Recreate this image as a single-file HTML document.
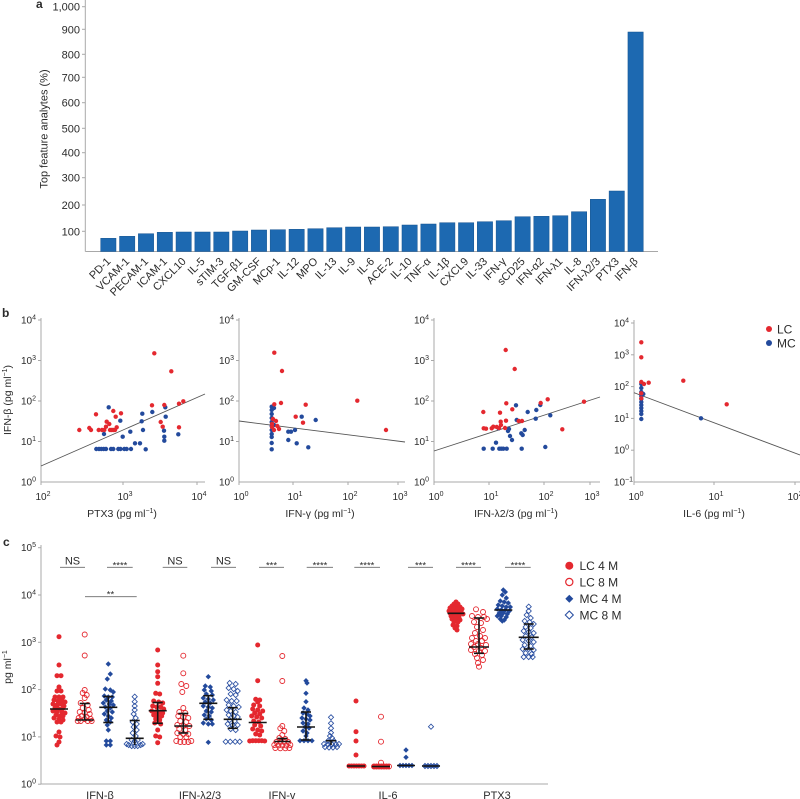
<!DOCTYPE html>
<html><head><meta charset="utf-8"><style>
html,body{margin:0;padding:0;background:#fff;}
svg{display:block;}
text{font-family:"Liberation Sans",Arial,sans-serif;fill:#2b2b2b;}
</style></head><body>
<svg width="800" height="799" viewBox="0 0 800 799" xmlns="http://www.w3.org/2000/svg">
<defs>
<circle id="rr" r="2.2" fill="#e4282f"/>
<circle id="bb" r="2.2" fill="#234a9c"/>
<circle id="rf" r="2.5" fill="#e4282f"/>
<circle id="ro" r="2.5" fill="none" stroke="#e4282f" stroke-width="0.9"/>
<path id="bf" d="M0,-2.7L2.7,0L0,2.7L-2.7,0Z" fill="#234a9c"/>
<path id="bo" d="M0,-2.6L2.6,0L0,2.6L-2.6,0Z" fill="none" stroke="#2b50a2" stroke-width="0.85"/>
</defs>

<!-- ================= PANEL A ================= -->
<text x="36" y="8" font-size="12" font-weight="bold">a</text>
<g stroke="#a8a8a8" stroke-width="1" fill="none">
<line x1="85.3" y1="0" x2="85.3" y2="251.5"/>
<line x1="85.3" y1="251.5" x2="658" y2="251.5"/>
<line x1="82" y1="6.7" x2="85.3" y2="6.7"/>
<line x1="82" y1="29.3" x2="85.3" y2="29.3"/>
<line x1="82" y1="54.3" x2="85.3" y2="54.3"/>
<line x1="82" y1="77.3" x2="85.3" y2="77.3"/>
<line x1="82" y1="102.7" x2="85.3" y2="102.7"/>
<line x1="82" y1="128.3" x2="85.3" y2="128.3"/>
<line x1="82" y1="152.7" x2="85.3" y2="152.7"/>
<line x1="82" y1="177.7" x2="85.3" y2="177.7"/>
<line x1="82" y1="205" x2="85.3" y2="205"/>
<line x1="82" y1="231.3" x2="85.3" y2="231.3"/>
</g>
<g font-size="11" text-anchor="end">
<text x="80" y="10.7">1,000</text>
<text x="80" y="33.3">900</text>
<text x="80" y="58.3">800</text>
<text x="80" y="81.3">700</text>
<text x="80" y="106.7">600</text>
<text x="80" y="132.3">500</text>
<text x="80" y="156.7">400</text>
<text x="80" y="181.7">300</text>
<text x="80" y="209">200</text>
<text x="80" y="235.3">100</text>
</g>
<text transform="translate(47.5,129) rotate(-90)" font-size="11" text-anchor="middle">Top feature analytes (%)</text>

<g fill="#1d69b1" stroke="#14528f" stroke-width="0.5">
<rect x="100.7" y="238.3" width="15.3" height="13.2"/>
<rect x="119.53" y="236.3" width="15.3" height="15.2"/>
<rect x="138.36" y="233.7" width="15.3" height="17.8"/>
<rect x="157.19" y="232.3" width="15.3" height="19.2"/>
<rect x="176.02" y="232" width="15.3" height="19.5"/>
<rect x="194.85" y="232" width="15.3" height="19.5"/>
<rect x="213.68" y="232" width="15.3" height="19.5"/>
<rect x="232.51" y="231" width="15.3" height="20.5"/>
<rect x="251.34" y="230" width="15.3" height="21.5"/>
<rect x="270.17" y="229.7" width="15.3" height="21.8"/>
<rect x="289.0" y="229.3" width="15.3" height="22.2"/>
<rect x="307.83" y="228.7" width="15.3" height="22.8"/>
<rect x="326.66" y="227.7" width="15.3" height="23.8"/>
<rect x="345.49" y="227" width="15.3" height="24.5"/>
<rect x="364.32" y="227" width="15.3" height="24.5"/>
<rect x="383.15" y="226.7" width="15.3" height="24.8"/>
<rect x="401.98" y="225" width="15.3" height="26.5"/>
<rect x="420.81" y="224" width="15.3" height="27.5"/>
<rect x="439.64" y="222.7" width="15.3" height="28.8"/>
<rect x="458.47" y="222.7" width="15.3" height="28.8"/>
<rect x="477.3" y="221.7" width="15.3" height="29.8"/>
<rect x="496.13" y="220.7" width="15.3" height="30.8"/>
<rect x="514.96" y="216.7" width="15.3" height="34.8"/>
<rect x="533.79" y="216.3" width="15.3" height="35.2"/>
<rect x="552.62" y="215.7" width="15.3" height="35.8"/>
<rect x="571.45" y="211.7" width="15.3" height="39.8"/>
<rect x="590.28" y="199.3" width="15.3" height="52.2"/>
<rect x="609.11" y="191" width="15.3" height="60.5"/>
<rect x="627.94" y="32" width="15.3" height="219.5"/>
</g>
<g font-size="11" text-anchor="end">
<text transform="translate(111.3,262) rotate(-45)">PD-1</text>
<text transform="translate(130.13,262) rotate(-45)">VCAM-1</text>
<text transform="translate(148.96,262) rotate(-45)">PECAM-1</text>
<text transform="translate(167.79,262) rotate(-45)">ICAM-1</text>
<text transform="translate(186.62,262) rotate(-45)">CXCL10</text>
<text transform="translate(205.45,262) rotate(-45)">IL-5</text>
<text transform="translate(224.28,262) rotate(-45)">sTIM-3</text>
<text transform="translate(243.11,262) rotate(-45)">TGF-β1</text>
<text transform="translate(261.94,262) rotate(-45)">GM-CSF</text>
<text transform="translate(280.77,262) rotate(-45)">MCp-1</text>
<text transform="translate(299.6,262) rotate(-45)">IL-12</text>
<text transform="translate(318.43,262) rotate(-45)">MPO</text>
<text transform="translate(337.26,262) rotate(-45)">IL-13</text>
<text transform="translate(356.09,262) rotate(-45)">IL-9</text>
<text transform="translate(374.92,262) rotate(-45)">IL-6</text>
<text transform="translate(393.75,262) rotate(-45)">ACE-2</text>
<text transform="translate(412.58,262) rotate(-45)">IL-10</text>
<text transform="translate(431.41,262) rotate(-45)">TNF-α</text>
<text transform="translate(450.24,262) rotate(-45)">IL-1β</text>
<text transform="translate(469.07,262) rotate(-45)">CXCL9</text>
<text transform="translate(487.9,262) rotate(-45)">IL-33</text>
<text transform="translate(506.73,262) rotate(-45)">IFN-γ</text>
<text transform="translate(525.56,262) rotate(-45)">sCD25</text>
<text transform="translate(544.39,262) rotate(-45)">IFN-α2</text>
<text transform="translate(563.22,262) rotate(-45)">IFN-λ1</text>
<text transform="translate(582.05,262) rotate(-45)">IL-8</text>
<text transform="translate(600.88,262) rotate(-45)">IFN-λ2/3</text>
<text transform="translate(619.71,262) rotate(-45)">PTX3</text>
<text transform="translate(638.54,262) rotate(-45)">IFN-β</text>
</g>

<!-- ================= PANEL B ================= -->
<text x="2" y="317" font-size="12" font-weight="bold">b</text>
<g stroke="#a8a8a8" stroke-width="1" fill="none">
<!-- plot1 -->
<line x1="41" y1="318" x2="41" y2="482"/><line x1="41" y1="482" x2="205" y2="482"/>
<line x1="38" y1="320" x2="41" y2="320"/><line x1="38" y1="360.5" x2="41" y2="360.5"/><line x1="38" y1="401" x2="41" y2="401"/><line x1="38" y1="441.5" x2="41" y2="441.5"/>
<line x1="123" y1="482" x2="123" y2="485"/><line x1="197" y1="482" x2="197" y2="485"/><line x1="41" y1="482" x2="41" y2="485"/>
<!-- plot2 -->
<line x1="239" y1="318" x2="239" y2="482"/><line x1="239" y1="482" x2="405" y2="482"/>
<line x1="236" y1="320" x2="239" y2="320"/><line x1="236" y1="360.5" x2="239" y2="360.5"/><line x1="236" y1="401" x2="239" y2="401"/><line x1="236" y1="441.5" x2="239" y2="441.5"/>
<line x1="293" y1="482" x2="293" y2="485"/><line x1="348" y1="482" x2="348" y2="485"/><line x1="398" y1="482" x2="398" y2="485"/><line x1="239" y1="482" x2="239" y2="485"/>
<!-- plot3 -->
<line x1="434" y1="318" x2="434" y2="482"/><line x1="434" y1="482" x2="600" y2="482"/>
<line x1="431" y1="320" x2="434" y2="320"/><line x1="431" y1="360.5" x2="434" y2="360.5"/><line x1="431" y1="401" x2="434" y2="401"/><line x1="431" y1="441.5" x2="434" y2="441.5"/>
<line x1="489" y1="482" x2="489" y2="485"/><line x1="544" y1="482" x2="544" y2="485"/><line x1="590" y1="482" x2="590" y2="485"/><line x1="434" y1="482" x2="434" y2="485"/>
<!-- plot4 -->
<line x1="634" y1="320" x2="634" y2="482"/><line x1="634" y1="482" x2="800" y2="482"/>
<line x1="631" y1="323" x2="634" y2="323"/><line x1="631" y1="354.8" x2="634" y2="354.8"/><line x1="631" y1="386.6" x2="634" y2="386.6"/><line x1="631" y1="418.4" x2="634" y2="418.4"/><line x1="631" y1="450.2" x2="634" y2="450.2"/>
<line x1="714" y1="482" x2="714" y2="485"/><line x1="795" y1="482" x2="795" y2="485"/><line x1="634" y1="482" x2="634" y2="485"/>
</g>
<g font-size="10" text-anchor="end">
<text x="36" y="323.5">10<tspan dy="-4" font-size="7">4</tspan></text>
<text x="36" y="364">10<tspan dy="-4" font-size="7">3</tspan></text>
<text x="36" y="404.5">10<tspan dy="-4" font-size="7">2</tspan></text>
<text x="36" y="445">10<tspan dy="-4" font-size="7">1</tspan></text>
<text x="36" y="485.5">10<tspan dy="-4" font-size="7">0</tspan></text>
<text x="234" y="323.5">10<tspan dy="-4" font-size="7">4</tspan></text>
<text x="234" y="364">10<tspan dy="-4" font-size="7">3</tspan></text>
<text x="234" y="404.5">10<tspan dy="-4" font-size="7">2</tspan></text>
<text x="234" y="445">10<tspan dy="-4" font-size="7">1</tspan></text>
<text x="234" y="485.5">10<tspan dy="-4" font-size="7">0</tspan></text>
<text x="429" y="323.5">10<tspan dy="-4" font-size="7">4</tspan></text>
<text x="429" y="364">10<tspan dy="-4" font-size="7">3</tspan></text>
<text x="429" y="404.5">10<tspan dy="-4" font-size="7">2</tspan></text>
<text x="429" y="445">10<tspan dy="-4" font-size="7">1</tspan></text>
<text x="429" y="485.5">10<tspan dy="-4" font-size="7">0</tspan></text>
<text x="629" y="326.5">10<tspan dy="-4" font-size="7">4</tspan></text>
<text x="629" y="358.3">10<tspan dy="-4" font-size="7">3</tspan></text>
<text x="629" y="390.1">10<tspan dy="-4" font-size="7">2</tspan></text>
<text x="629" y="421.9">10<tspan dy="-4" font-size="7">1</tspan></text>
<text x="629" y="453.7">10<tspan dy="-4" font-size="7">0</tspan></text>
<text x="633" y="485.5">10<tspan dy="-4" font-size="7">−1</tspan></text>
</g>
<g font-size="10" text-anchor="middle">
<text x="43" y="500">10<tspan dy="-4" font-size="7">2</tspan></text>
<text x="125" y="500">10<tspan dy="-4" font-size="7">3</tspan></text>
<text x="199" y="500">10<tspan dy="-4" font-size="7">4</tspan></text>
<text x="241" y="500">10<tspan dy="-4" font-size="7">0</tspan></text>
<text x="295" y="500">10<tspan dy="-4" font-size="7">1</tspan></text>
<text x="350" y="500">10<tspan dy="-4" font-size="7">2</tspan></text>
<text x="400" y="500">10<tspan dy="-4" font-size="7">3</tspan></text>
<text x="436" y="500">10<tspan dy="-4" font-size="7">0</tspan></text>
<text x="491" y="500">10<tspan dy="-4" font-size="7">1</tspan></text>
<text x="546" y="500">10<tspan dy="-4" font-size="7">2</tspan></text>
<text x="592" y="500">10<tspan dy="-4" font-size="7">3</tspan></text>
<text x="636" y="500">10<tspan dy="-4" font-size="7">0</tspan></text>
<text x="716" y="500">10<tspan dy="-4" font-size="7">1</tspan></text>
<text x="795" y="500">10<tspan dy="-4" font-size="7">2</tspan></text>
</g>
<g font-size="10.5" text-anchor="middle">
<text x="122" y="517">PTX3 (pg ml<tspan dy="-4" font-size="7">−1</tspan><tspan dy="4">)</tspan></text>
<text x="320" y="517">IFN-γ (pg ml<tspan dy="-4" font-size="7">−1</tspan><tspan dy="4">)</tspan></text>
<text x="516" y="517">IFN-λ2/3 (pg ml<tspan dy="-4" font-size="7">−1</tspan><tspan dy="4">)</tspan></text>
<text x="714" y="517">IL-6 (pg ml<tspan dy="-4" font-size="7">−1</tspan><tspan dy="4">)</tspan></text>
</g>
<text transform="translate(11,400) rotate(-90)" font-size="10.5" text-anchor="middle">IFN-β (pg ml<tspan dy="-4" font-size="7">−1</tspan><tspan dy="4">)</tspan></text>

<!-- regression lines -->
<g stroke="#555" stroke-width="0.9">
<line x1="41" y1="466" x2="205" y2="394"/>
<line x1="239" y1="421" x2="405" y2="442"/>
<line x1="434" y1="451" x2="600" y2="397"/>
<line x1="634" y1="392.7" x2="800" y2="455"/>
</g>

<!-- plot1 points -->
<g>
<use href="#bb" x="108.7" y="407.3"/><use href="#bb" x="120.3" y="420.7"/><use href="#bb" x="104" y="434"/>
<use href="#bb" x="96.3" y="449"/><use href="#bb" x="99" y="449"/><use href="#bb" x="101.3" y="449"/><use href="#bb" x="103.7" y="449"/><use href="#bb" x="106" y="449"/><use href="#bb" x="111" y="449"/><use href="#bb" x="113.3" y="449"/><use href="#bb" x="118.3" y="449"/><use href="#bb" x="120.5" y="449"/><use href="#bb" x="124.3" y="449"/><use href="#bb" x="126.7" y="449"/><use href="#bb" x="131" y="449"/>
<use href="#bb" x="122.7" y="436.7"/><use href="#bb" x="130.3" y="431.7"/><use href="#bb" x="135" y="443.3"/><use href="#bb" x="140" y="443.3"/>
<use href="#bb" x="142.3" y="413.7"/><use href="#bb" x="143" y="430"/><use href="#bb" x="141.7" y="421.3"/><use href="#bb" x="145.7" y="449.3"/>
<use href="#bb" x="152.3" y="412"/><use href="#bb" x="164" y="430.7"/><use href="#bb" x="164.3" y="436.7"/><use href="#bb" x="164.3" y="440.7"/><use href="#bb" x="165.7" y="416.7"/><use href="#bb" x="165.3" y="407.3"/><use href="#bb" x="178.3" y="434.3"/>
<use href="#rr" x="79.3" y="430"/><use href="#rr" x="89.3" y="428"/><use href="#rr" x="91" y="430"/><use href="#rr" x="96" y="414.3"/><use href="#rr" x="98.7" y="430"/><use href="#rr" x="102" y="430"/><use href="#rr" x="104.3" y="430"/><use href="#rr" x="106" y="426.7"/><use href="#rr" x="106.7" y="421.7"/><use href="#rr" x="109.3" y="424"/><use href="#rr" x="110" y="430"/><use href="#rr" x="111.7" y="430"/><use href="#rr" x="113.3" y="430"/><use href="#rr" x="115" y="430"/><use href="#rr" x="113.3" y="411"/><use href="#rr" x="115.7" y="416.7"/><use href="#rr" x="116.7" y="427.3"/><use href="#rr" x="121" y="413.3"/>
<use href="#rr" x="154.3" y="353.3"/><use href="#rr" x="171.3" y="371.3"/><use href="#rr" x="152" y="405.3"/><use href="#rr" x="164.3" y="405"/><use href="#rr" x="160.7" y="422"/><use href="#rr" x="162.7" y="426.7"/><use href="#rr" x="179" y="403.7"/><use href="#rr" x="183.3" y="401.3"/><use href="#rr" x="179" y="427.3"/>
</g>
<!-- plot2 points -->
<g>
<use href="#bb" x="271.7" y="406.7"/><use href="#bb" x="271.7" y="410"/><use href="#bb" x="271.7" y="414"/><use href="#bb" x="271.7" y="418"/><use href="#bb" x="271.7" y="422"/><use href="#bb" x="271.7" y="426"/><use href="#bb" x="271.7" y="430"/><use href="#bb" x="271.7" y="434"/><use href="#bb" x="271.7" y="437"/><use href="#bb" x="271.7" y="443"/><use href="#bb" x="271.7" y="449.3"/>
<use href="#bb" x="274" y="408"/><use href="#bb" x="274" y="425"/><use href="#bb" x="288.3" y="431.7"/><use href="#bb" x="291" y="431.7"/><use href="#bb" x="288.3" y="440"/><use href="#bb" x="296.7" y="443.3"/><use href="#bb" x="301.7" y="416.7"/><use href="#bb" x="315.7" y="420"/><use href="#bb" x="308.3" y="447.3"/><use href="#bb" x="295" y="430"/>
<use href="#rr" x="274.3" y="352.7"/><use href="#rr" x="282" y="371"/><use href="#rr" x="274.3" y="404.3"/><use href="#rr" x="281" y="403"/><use href="#rr" x="357.3" y="400.7"/><use href="#rr" x="386" y="430"/><use href="#rr" x="305.7" y="404.7"/><use href="#rr" x="295.7" y="416.7"/><use href="#rr" x="303" y="422.7"/><use href="#rr" x="277.3" y="426"/><use href="#rr" x="272" y="427"/><use href="#rr" x="274" y="430"/><use href="#rr" x="279" y="429"/><use href="#rr" x="272" y="424"/><use href="#rr" x="276" y="421"/><use href="#rr" x="273" y="419"/>
</g>
<!-- plot3 points -->
<g>
<use href="#bb" x="483.7" y="448.7"/><use href="#bb" x="492.7" y="448.7"/><use href="#bb" x="496" y="442.7"/><use href="#bb" x="499.3" y="448.7"/><use href="#bb" x="501.3" y="448.7"/><use href="#bb" x="503.3" y="448.7"/><use href="#bb" x="506.7" y="448.7"/><use href="#bb" x="498.7" y="428.3"/><use href="#bb" x="509" y="429"/><use href="#bb" x="508" y="431"/><use href="#bb" x="510" y="436"/><use href="#bb" x="512" y="440"/><use href="#bb" x="516" y="405.3"/><use href="#bb" x="516.7" y="420"/><use href="#bb" x="521.3" y="433.3"/><use href="#bb" x="522.7" y="435"/><use href="#bb" x="524.7" y="430"/><use href="#bb" x="521.7" y="448.7"/><use href="#bb" x="527.7" y="412"/><use href="#bb" x="535.7" y="418.7"/><use href="#bb" x="536.3" y="410"/><use href="#bb" x="540.3" y="405"/><use href="#bb" x="545.3" y="447"/><use href="#bb" x="550.3" y="415.3"/>
<use href="#rr" x="505.7" y="350"/><use href="#rr" x="514.7" y="369"/><use href="#rr" x="506.3" y="403.3"/><use href="#rr" x="483.3" y="412"/><use href="#rr" x="483.7" y="428.3"/><use href="#rr" x="486" y="428.7"/><use href="#rr" x="491.7" y="428.3"/><use href="#rr" x="493.3" y="426.7"/><use href="#rr" x="496.7" y="427"/><use href="#rr" x="500" y="412.7"/><use href="#rr" x="500.7" y="421.7"/><use href="#rr" x="501" y="425"/><use href="#rr" x="499" y="428"/><use href="#rr" x="505" y="428"/><use href="#rr" x="506" y="420.7"/><use href="#rr" x="512.3" y="409.3"/><use href="#rr" x="518.7" y="421"/><use href="#rr" x="522" y="421"/><use href="#rr" x="540.7" y="403"/><use href="#rr" x="547.7" y="399.3"/><use href="#rr" x="562.3" y="429.3"/><use href="#rr" x="584" y="401.7"/>
</g>
<!-- plot4 points -->
<g>
<use href="#bb" x="641.3" y="384"/><use href="#bb" x="641.3" y="388"/><use href="#bb" x="641.3" y="392"/><use href="#bb" x="641.3" y="396"/><use href="#bb" x="641.3" y="399"/><use href="#bb" x="641.3" y="402"/><use href="#bb" x="641.3" y="405"/><use href="#bb" x="641.3" y="408"/><use href="#bb" x="641.3" y="411"/><use href="#bb" x="641.3" y="414"/><use href="#bb" x="641.3" y="419"/><use href="#bb" x="643.3" y="394"/><use href="#bb" x="701" y="418.3"/>
<use href="#rr" x="641.3" y="342.3"/><use href="#rr" x="641.3" y="357.3"/><use href="#rr" x="641.3" y="382"/><use href="#rr" x="641.3" y="393.3"/><use href="#rr" x="641.3" y="398.3"/><use href="#rr" x="644" y="384"/><use href="#rr" x="648.7" y="382.7"/><use href="#rr" x="683.3" y="380.7"/><use href="#rr" x="726.7" y="404.3"/>
</g>
<!-- legend b -->
<use href="#rr" x="769" y="329" transform="translate(0,0)"/>
<circle cx="769" cy="329" r="3" fill="#e4282f"/>
<circle cx="769" cy="343" r="3" fill="#234a9c"/>
<text x="777" y="333.5" font-size="12">LC</text>
<text x="777" y="347.5" font-size="12">MC</text>

<!-- ================= PANEL C ================= -->
<text x="3" y="546" font-size="12" font-weight="bold">c</text>
<g stroke="#a8a8a8" stroke-width="1" fill="none">
<line x1="41" y1="545" x2="41" y2="784"/><line x1="41" y1="784" x2="548" y2="784"/>
<line x1="38" y1="547.7" x2="41" y2="547.7"/><line x1="38" y1="595" x2="41" y2="595"/><line x1="38" y1="642.3" x2="41" y2="642.3"/><line x1="38" y1="689.6" x2="41" y2="689.6"/><line x1="38" y1="736.9" x2="41" y2="736.9"/><line x1="38" y1="784.2" x2="41" y2="784.2"/>
</g>
<g font-size="10" text-anchor="end">
<text x="36" y="551.2">10<tspan dy="-4" font-size="7">5</tspan></text>
<text x="36" y="598.5">10<tspan dy="-4" font-size="7">4</tspan></text>
<text x="36" y="645.8">10<tspan dy="-4" font-size="7">3</tspan></text>
<text x="36" y="693.1">10<tspan dy="-4" font-size="7">2</tspan></text>
<text x="36" y="740.4">10<tspan dy="-4" font-size="7">1</tspan></text>
<text x="36" y="787.7">10<tspan dy="-4" font-size="7">0</tspan></text>
</g>
<text transform="translate(11,667) rotate(-90)" font-size="10.5" text-anchor="middle">pg ml<tspan dy="-4" font-size="7">−1</tspan></text>
<g font-size="11" text-anchor="middle">
<text x="100" y="799">IFN-β</text>
<text x="200" y="799">IFN-λ2/3</text>
<text x="282" y="799">IFN-γ</text>
<text x="388" y="799">IL-6</text>
<text x="497" y="799">PTX3</text>
</g>

<!-- significance -->
<g stroke="#6a6a6a" stroke-width="0.9">
<line x1="60" y1="567.3" x2="85" y2="567.3"/>
<line x1="107" y1="567.3" x2="132.7" y2="567.3"/>
<line x1="162.7" y1="567.3" x2="187.3" y2="567.3"/>
<line x1="211" y1="567.3" x2="236" y2="567.3"/>
<line x1="259" y1="567.3" x2="284" y2="567.3"/>
<line x1="306.7" y1="567.3" x2="333" y2="567.3"/>
<line x1="354.3" y1="567.3" x2="380" y2="567.3"/>
<line x1="408" y1="567.3" x2="433" y2="567.3"/>
<line x1="456" y1="567.3" x2="481" y2="567.3"/>
<line x1="505" y1="567.3" x2="530.7" y2="567.3"/>
<line x1="85" y1="596.7" x2="136.7" y2="596.7"/>
</g>
<g font-size="11" text-anchor="middle">
<text x="72.5" y="564.5">NS</text>
<text x="175" y="564.5">NS</text>
<text x="223.5" y="564.5">NS</text>
</g>
<g font-size="9.5" text-anchor="middle">
<text x="120" y="568.5">****</text>
<text x="271.5" y="568.5">***</text>
<text x="320" y="568.5">****</text>
<text x="367" y="568.5">****</text>
<text x="420.5" y="568.5">***</text>
<text x="468.5" y="568.5">****</text>
<text x="518" y="568.5">****</text>
<text x="110.5" y="597.5">**</text>
</g>

<!-- IFN-beta LC4M -->
<g transform="translate(59,0)">
<use href="#rf" x="0" y="636.7"/><use href="#rf" x="0" y="665"/><use href="#rf" x="-2" y="675.7"/><use href="#rf" x="2" y="675.7"/><use href="#rf" x="0" y="687"/><use href="#rf" x="-2" y="691"/><use href="#rf" x="2" y="691"/>
<use href="#rf" x="-4" y="697"/><use href="#rf" x="0" y="697"/><use href="#rf" x="4" y="697"/><use href="#rf" x="-5" y="700"/><use href="#rf" x="-1" y="701"/><use href="#rf" x="3" y="700"/><use href="#rf" x="6" y="702"/><use href="#rf" x="-6" y="704"/><use href="#rf" x="-2" y="705"/><use href="#rf" x="2" y="704"/><use href="#rf" x="5" y="706"/><use href="#rf" x="-4" y="708"/><use href="#rf" x="0" y="709"/><use href="#rf" x="4" y="708"/><use href="#rf" x="-6" y="711"/><use href="#rf" x="-2" y="712"/><use href="#rf" x="3" y="712"/><use href="#rf" x="6" y="713"/><use href="#rf" x="-3" y="715"/><use href="#rf" x="1" y="716"/><use href="#rf" x="4" y="716"/><use href="#rf" x="-5" y="718"/><use href="#rf" x="0" y="719"/><use href="#rf" x="4" y="720"/><use href="#rf" x="-2" y="722"/><use href="#rf" x="2" y="722"/>
<use href="#rf" x="0" y="732"/><use href="#rf" x="-3" y="736"/><use href="#rf" x="1" y="737"/><use href="#rf" x="0" y="742"/><use href="#rf" x="-2" y="745"/>
</g>
<!-- IFN-beta LC8M -->
<g transform="translate(84.7,0)">
<use href="#ro" x="0" y="634.5"/><use href="#ro" x="0" y="655.5"/><use href="#ro" x="0" y="690"/><use href="#ro" x="-2" y="693"/><use href="#ro" x="2" y="695"/><use href="#ro" x="0" y="698"/>
<use href="#ro" x="-4" y="703"/><use href="#ro" x="3" y="705"/><use href="#ro" x="-2" y="708"/><use href="#ro" x="4" y="710"/><use href="#ro" x="-5" y="712"/><use href="#ro" x="0" y="713"/><use href="#ro" x="5" y="714"/><use href="#ro" x="-3" y="716"/><use href="#ro" x="2" y="717"/><use href="#ro" x="-6" y="718"/><use href="#ro" x="0" y="719"/><use href="#ro" x="6" y="719"/><use href="#ro" x="-4" y="721"/><use href="#ro" x="3" y="721"/><use href="#ro" x="-7" y="721"/><use href="#ro" x="7" y="721"/>
</g>
<!-- IFN-beta MC4M -->
<g transform="translate(108.3,0)">
<use href="#bf" x="0" y="664"/><use href="#bf" x="2" y="674"/><use href="#bf" x="-1" y="679"/><use href="#bf" x="-3" y="689"/><use href="#bf" x="2" y="690"/><use href="#bf" x="5" y="692"/><use href="#bf" x="-4" y="696"/><use href="#bf" x="0" y="697"/><use href="#bf" x="4" y="697"/><use href="#bf" x="-2" y="700"/><use href="#bf" x="3" y="701"/><use href="#bf" x="-5" y="703"/><use href="#bf" x="1" y="704"/><use href="#bf" x="5" y="705"/><use href="#bf" x="-3" y="707"/><use href="#bf" x="2" y="708"/><use href="#bf" x="-1" y="711"/><use href="#bf" x="4" y="712"/><use href="#bf" x="-4" y="714"/><use href="#bf" x="0" y="716"/><use href="#bf" x="3" y="718"/><use href="#bf" x="-2" y="720"/><use href="#bf" x="2" y="722"/><use href="#bf" x="-1" y="725"/><use href="#bf" x="0" y="730"/><use href="#bf" x="-2" y="741"/><use href="#bf" x="2" y="741"/><use href="#bf" x="-2" y="745"/><use href="#bf" x="2" y="745"/>
</g>
<!-- IFN-beta MC8M -->
<g transform="translate(134.7,0)">
<use href="#bo" x="0" y="696.7"/><use href="#bo" x="0" y="701.7"/><use href="#bo" x="0" y="706"/><use href="#bo" x="0" y="710"/><use href="#bo" x="-1" y="714"/><use href="#bo" x="1" y="718"/><use href="#bo" x="-2" y="722"/><use href="#bo" x="2" y="724"/><use href="#bo" x="-1" y="727"/><use href="#bo" x="2" y="730"/><use href="#bo" x="-2" y="733"/><use href="#bo" x="1" y="736"/><use href="#bo" x="-3" y="740"/><use href="#bo" x="0" y="741"/><use href="#bo" x="3" y="740"/><use href="#bo" x="-6" y="745"/><use href="#bo" x="-3" y="746"/><use href="#bo" x="0" y="746"/><use href="#bo" x="3" y="746"/><use href="#bo" x="6" y="745"/><use href="#bo" x="-8" y="744"/><use href="#bo" x="8" y="744"/>
</g>
<!-- IFN-lambda LC4M -->
<g transform="translate(157.7,0)">
<use href="#rf" x="0" y="650"/><use href="#rf" x="0" y="665"/><use href="#rf" x="0" y="671.7"/><use href="#rf" x="0" y="676.7"/><use href="#rf" x="0" y="683.3"/><use href="#rf" x="-2" y="693.3"/><use href="#rf" x="2" y="694"/><use href="#rf" x="-4" y="701"/><use href="#rf" x="1" y="702"/><use href="#rf" x="5" y="703"/><use href="#rf" x="-5" y="706"/><use href="#rf" x="-1" y="707"/><use href="#rf" x="3" y="707"/><use href="#rf" x="6" y="709"/><use href="#rf" x="-6" y="711"/><use href="#rf" x="-2" y="712"/><use href="#rf" x="2" y="712"/><use href="#rf" x="5" y="713"/><use href="#rf" x="-4" y="715"/><use href="#rf" x="0" y="716"/><use href="#rf" x="4" y="716"/><use href="#rf" x="-2" y="719"/><use href="#rf" x="2" y="720"/><use href="#rf" x="-3" y="723"/><use href="#rf" x="3" y="724"/><use href="#rf" x="0" y="730"/><use href="#rf" x="-2" y="736"/><use href="#rf" x="2" y="737"/><use href="#rf" x="0" y="742.7"/>
</g>
<!-- IFN-lambda LC8M -->
<g transform="translate(183.3,0)">
<use href="#ro" x="0" y="655.7"/><use href="#ro" x="0" y="673.3"/><use href="#ro" x="-2" y="684"/><use href="#ro" x="3" y="686"/><use href="#ro" x="-1" y="692"/><use href="#ro" x="0" y="708"/><use href="#ro" x="-4" y="712"/><use href="#ro" x="2" y="713"/><use href="#ro" x="-5" y="716"/><use href="#ro" x="0" y="717"/><use href="#ro" x="5" y="718"/><use href="#ro" x="-3" y="721"/><use href="#ro" x="3" y="722"/><use href="#ro" x="-6" y="725"/><use href="#ro" x="0" y="726"/><use href="#ro" x="6" y="726"/><use href="#ro" x="-4" y="729"/><use href="#ro" x="2" y="730"/><use href="#ro" x="-6" y="733"/><use href="#ro" x="0" y="734"/><use href="#ro" x="5" y="734"/><use href="#ro" x="-3" y="737"/><use href="#ro" x="3" y="737"/><use href="#ro" x="-7" y="741"/><use href="#ro" x="-3" y="742"/><use href="#ro" x="1" y="742"/><use href="#ro" x="5" y="742"/><use href="#ro" x="8" y="741"/>
</g>
<!-- IFN-lambda MC4M -->
<g transform="translate(208.3,0)">
<use href="#bf" x="0" y="676.7"/><use href="#bf" x="-3" y="686"/><use href="#bf" x="2" y="687"/><use href="#bf" x="-4" y="690"/><use href="#bf" x="3" y="691"/><use href="#bf" x="-2" y="694"/><use href="#bf" x="4" y="695"/><use href="#bf" x="-5" y="698"/><use href="#bf" x="0" y="699"/><use href="#bf" x="5" y="700"/><use href="#bf" x="-3" y="702"/><use href="#bf" x="2" y="703"/><use href="#bf" x="-5" y="706"/><use href="#bf" x="0" y="707"/><use href="#bf" x="4" y="708"/><use href="#bf" x="-2" y="711"/><use href="#bf" x="3" y="712"/><use href="#bf" x="-4" y="715"/><use href="#bf" x="1" y="716"/><use href="#bf" x="-2" y="719"/><use href="#bf" x="3" y="720"/><use href="#bf" x="-5" y="723"/><use href="#bf" x="0" y="724"/><use href="#bf" x="4" y="724"/><use href="#bf" x="0" y="742.3"/>
</g>
<!-- IFN-lambda MC8M -->
<g transform="translate(232.7,0)">
<use href="#bo" x="-3" y="683"/><use href="#bo" x="3" y="684"/><use href="#bo" x="-4" y="688"/><use href="#bo" x="1" y="689"/><use href="#bo" x="5" y="691"/><use href="#bo" x="-2" y="694"/><use href="#bo" x="3" y="695"/><use href="#bo" x="-6" y="700"/><use href="#bo" x="-1" y="701"/><use href="#bo" x="4" y="701"/><use href="#bo" x="-4" y="705"/><use href="#bo" x="1" y="706"/><use href="#bo" x="6" y="707"/><use href="#bo" x="-6" y="710"/><use href="#bo" x="-2" y="711"/><use href="#bo" x="3" y="712"/><use href="#bo" x="-4" y="715"/><use href="#bo" x="1" y="716"/><use href="#bo" x="5" y="717"/><use href="#bo" x="-3" y="720"/><use href="#bo" x="2" y="721"/><use href="#bo" x="-5" y="724"/><use href="#bo" x="0" y="725"/><use href="#bo" x="5" y="725"/><use href="#bo" x="-2" y="729"/><use href="#bo" x="3" y="730"/><use href="#bo" x="-7" y="741.7"/><use href="#bo" x="-2.5" y="741.7"/><use href="#bo" x="2.5" y="741.7"/><use href="#bo" x="7" y="741.7"/>
</g>
<!-- IFN-gamma LC4M -->
<g transform="translate(257.7,0)">
<use href="#rf" x="0" y="645"/><use href="#rf" x="0" y="680.7"/><use href="#rf" x="-2" y="699.3"/><use href="#rf" x="2" y="700"/><use href="#rf" x="0" y="702"/><use href="#rf" x="-4" y="705"/><use href="#rf" x="2" y="706"/><use href="#rf" x="-5" y="709"/><use href="#rf" x="0" y="710"/><use href="#rf" x="5" y="711"/><use href="#rf" x="-3" y="713"/><use href="#rf" x="2" y="714"/><use href="#rf" x="-6" y="716"/><use href="#rf" x="-1" y="717"/><use href="#rf" x="4" y="718"/><use href="#rf" x="-4" y="721"/><use href="#rf" x="1" y="722"/><use href="#rf" x="-3" y="725"/><use href="#rf" x="3" y="726"/><use href="#rf" x="-5" y="729"/><use href="#rf" x="0" y="730"/><use href="#rf" x="4" y="731"/><use href="#rf" x="-2" y="734"/><use href="#rf" x="2" y="735"/><use href="#rf" x="-8" y="741"/><use href="#rf" x="-5" y="740.7"/><use href="#rf" x="-2" y="740.7"/><use href="#rf" x="1" y="740.7"/><use href="#rf" x="4" y="740.7"/><use href="#rf" x="7" y="741"/>
</g>
<!-- IFN-gamma LC8M -->
<g transform="translate(282.3,0)">
<use href="#ro" x="0" y="656"/><use href="#ro" x="0" y="681"/><use href="#ro" x="0" y="726"/><use href="#ro" x="-2" y="728.3"/><use href="#ro" x="2" y="731"/><use href="#ro" x="0" y="735"/><use href="#ro" x="-3" y="738"/><use href="#ro" x="3" y="739"/><use href="#ro" x="-6" y="742"/><use href="#ro" x="-2" y="742"/><use href="#ro" x="2" y="742"/><use href="#ro" x="6" y="742"/><use href="#ro" x="-8" y="745"/><use href="#ro" x="-4" y="745.5"/><use href="#ro" x="0" y="745.5"/><use href="#ro" x="4" y="745.5"/><use href="#ro" x="8" y="745"/><use href="#ro" x="-7" y="748"/><use href="#ro" x="-2" y="748.3"/><use href="#ro" x="3" y="748.3"/><use href="#ro" x="7" y="748"/>
</g>
<!-- IFN-gamma MC4M -->
<g transform="translate(306,0)">
<use href="#bf" x="0" y="680.7"/><use href="#bf" x="1" y="683"/><use href="#bf" x="0" y="693.3"/><use href="#bf" x="0" y="701.7"/><use href="#bf" x="-2" y="708"/><use href="#bf" x="2" y="710"/><use href="#bf" x="-3" y="713"/><use href="#bf" x="1" y="714"/><use href="#bf" x="4" y="716"/><use href="#bf" x="-4" y="718"/><use href="#bf" x="0" y="719"/><use href="#bf" x="4" y="720"/><use href="#bf" x="-3" y="723"/><use href="#bf" x="2" y="724"/><use href="#bf" x="-1" y="727"/><use href="#bf" x="3" y="728"/><use href="#bf" x="-3" y="731"/><use href="#bf" x="1" y="733"/><use href="#bf" x="0" y="736"/><use href="#bf" x="-6" y="740.7"/><use href="#bf" x="-2" y="740.7"/><use href="#bf" x="2" y="740.7"/><use href="#bf" x="6" y="740.7"/>
</g>
<!-- IFN-gamma MC8M -->
<g transform="translate(331,0)">
<use href="#bo" x="0" y="717.3"/><use href="#bo" x="0" y="723.3"/><use href="#bo" x="0" y="728.3"/><use href="#bo" x="0" y="732.7"/><use href="#bo" x="-1" y="736"/><use href="#bo" x="1" y="738"/><use href="#bo" x="-3" y="741"/><use href="#bo" x="3" y="741"/><use href="#bo" x="-7" y="744"/><use href="#bo" x="-3" y="744.5"/><use href="#bo" x="1" y="744.5"/><use href="#bo" x="5" y="744.5"/><use href="#bo" x="8" y="744"/><use href="#bo" x="-6" y="747"/><use href="#bo" x="-2" y="747.5"/><use href="#bo" x="2" y="747.5"/><use href="#bo" x="6" y="747"/>
</g>
<!-- IL-6 -->
<g transform="translate(356,0)">
<use href="#rf" x="0" y="701"/><use href="#rf" x="0" y="731.7"/><use href="#rf" x="0" y="741"/><use href="#rf" x="0" y="755"/>
<use href="#rf" x="-7" y="766"/><use href="#rf" x="-4.5" y="766"/><use href="#rf" x="-2" y="766"/><use href="#rf" x="0.5" y="766"/><use href="#rf" x="3" y="766"/><use href="#rf" x="5.5" y="766"/><use href="#rf" x="8" y="766"/>
</g>
<g transform="translate(381,0)">
<use href="#ro" x="0" y="716.7"/><use href="#ro" x="0" y="741.7"/><use href="#ro" x="0" y="762.7"/>
<use href="#ro" x="-7" y="766.5"/><use href="#ro" x="-4.5" y="766.5"/><use href="#ro" x="-2" y="766.5"/><use href="#ro" x="0.5" y="766.5"/><use href="#ro" x="3" y="766.5"/><use href="#ro" x="5.5" y="766.5"/><use href="#ro" x="8" y="766.5"/>
<rect x="-9" y="764.5" width="18" height="4" fill="#e4282f"/>
</g>
<g transform="translate(406,0)">
<use href="#bf" x="0" y="750"/><use href="#bf" x="0" y="757.3"/>
<use href="#bf" x="-6" y="765.5"/><use href="#bf" x="-3" y="765.5"/><use href="#bf" x="0" y="765.5"/><use href="#bf" x="3" y="765.5"/><use href="#bf" x="6" y="765.5"/>
</g>
<g transform="translate(431,0)">
<use href="#bo" x="0" y="726.7"/>
<use href="#bo" x="-6" y="766"/><use href="#bo" x="-3" y="766"/><use href="#bo" x="0" y="766"/><use href="#bo" x="3" y="766"/><use href="#bo" x="6" y="766"/>
<rect x="-7" y="764.5" width="14" height="3" fill="#2b50a2"/>
</g>
<!-- PTX3 LC4M -->
<g transform="translate(456,0)">
<use href="#rf" x="0" y="602"/><use href="#rf" x="-2" y="604"/><use href="#rf" x="2" y="604"/><use href="#rf" x="-4" y="606"/><use href="#rf" x="0" y="606"/><use href="#rf" x="4" y="607"/><use href="#rf" x="-6" y="608"/><use href="#rf" x="-2" y="608"/><use href="#rf" x="2" y="609"/><use href="#rf" x="6" y="609"/><use href="#rf" x="-7" y="611"/><use href="#rf" x="-3" y="611"/><use href="#rf" x="1" y="611"/><use href="#rf" x="5" y="612"/><use href="#rf" x="-6" y="613"/><use href="#rf" x="-2" y="613"/><use href="#rf" x="3" y="614"/><use href="#rf" x="7" y="614"/><use href="#rf" x="-5" y="616"/><use href="#rf" x="-1" y="616"/><use href="#rf" x="3" y="617"/><use href="#rf" x="-4" y="619"/><use href="#rf" x="0" y="619"/><use href="#rf" x="4" y="620"/><use href="#rf" x="-2" y="622"/><use href="#rf" x="2" y="622"/><use href="#rf" x="-3" y="625"/><use href="#rf" x="1" y="626"/><use href="#rf" x="-1" y="628"/><use href="#rf" x="1" y="630"/>
</g>
<!-- PTX3 LC8M -->
<g transform="translate(479,0)">
<use href="#ro" x="-3" y="609.3"/><use href="#ro" x="4" y="612"/><use href="#ro" x="-7" y="616"/><use href="#ro" x="-1" y="617"/><use href="#ro" x="5" y="617"/><use href="#ro" x="8" y="619"/><use href="#ro" x="-5" y="622"/><use href="#ro" x="2" y="623"/><use href="#ro" x="-2" y="627"/><use href="#ro" x="4" y="630"/><use href="#ro" x="-4" y="633"/><use href="#ro" x="1" y="636"/><use href="#ro" x="-7" y="638"/><use href="#ro" x="6" y="638"/><use href="#ro" x="-3" y="641"/><use href="#ro" x="3" y="641"/><use href="#ro" x="-8" y="644"/><use href="#ro" x="-1" y="644"/><use href="#ro" x="7" y="645"/><use href="#ro" x="-5" y="647"/><use href="#ro" x="2" y="648"/><use href="#ro" x="-8" y="650"/><use href="#ro" x="0" y="651"/><use href="#ro" x="6" y="651"/><use href="#ro" x="-4" y="654"/><use href="#ro" x="3" y="655"/><use href="#ro" x="-2" y="658"/><use href="#ro" x="4" y="660"/><use href="#ro" x="-1" y="663"/><use href="#ro" x="0" y="666.7"/>
</g>
<!-- PTX3 MC4M -->
<g transform="translate(503.3,0)">
<use href="#bf" x="0" y="590"/><use href="#bf" x="2" y="592"/><use href="#bf" x="-1" y="595"/><use href="#bf" x="3" y="598"/><use href="#bf" x="-3" y="601"/><use href="#bf" x="1" y="602"/><use href="#bf" x="5" y="603"/><use href="#bf" x="-5" y="605"/><use href="#bf" x="-1" y="606"/><use href="#bf" x="3" y="607"/><use href="#bf" x="7" y="607"/><use href="#bf" x="-6" y="609"/><use href="#bf" x="-2" y="610"/><use href="#bf" x="2" y="610"/><use href="#bf" x="6" y="611"/><use href="#bf" x="-4" y="613"/><use href="#bf" x="0" y="613"/><use href="#bf" x="4" y="614"/><use href="#bf" x="-6" y="616"/><use href="#bf" x="-2" y="616"/><use href="#bf" x="3" y="617"/><use href="#bf" x="-3" y="619"/><use href="#bf" x="1" y="620"/><use href="#bf" x="-1" y="621"/>
</g>
<!-- PTX3 MC8M -->
<g transform="translate(528.7,0)">
<use href="#bo" x="0" y="606.7"/><use href="#bo" x="0" y="611"/><use href="#bo" x="-2" y="615"/><use href="#bo" x="2" y="618"/><use href="#bo" x="-4" y="621"/><use href="#bo" x="1" y="622"/><use href="#bo" x="5" y="624"/><use href="#bo" x="-3" y="627"/><use href="#bo" x="2" y="628"/><use href="#bo" x="-5" y="631"/><use href="#bo" x="0" y="632"/><use href="#bo" x="5" y="633"/><use href="#bo" x="-3" y="636"/><use href="#bo" x="3" y="637"/><use href="#bo" x="-6" y="640"/><use href="#bo" x="0" y="641"/><use href="#bo" x="5" y="642"/><use href="#bo" x="-4" y="645"/><use href="#bo" x="2" y="646"/><use href="#bo" x="-6" y="649"/><use href="#bo" x="0" y="649"/><use href="#bo" x="5" y="650"/><use href="#bo" x="-3" y="653"/><use href="#bo" x="3" y="654"/><use href="#bo" x="-5" y="657"/><use href="#bo" x="0" y="657"/><use href="#bo" x="4" y="657"/>
</g>

<!-- medians / IQR -->
<g stroke="#151515" stroke-width="1.6" fill="none">
<line x1="50" y1="709" x2="68" y2="709"/>
<line x1="75.7" y1="720" x2="93.7" y2="720"/><line x1="79.7" y1="703.5" x2="89.7" y2="703.5"/><line x1="84.7" y1="703.5" x2="84.7" y2="720"/>
<line x1="99.3" y1="707.3" x2="117.3" y2="707.3"/><line x1="103.3" y1="696.5" x2="113.3" y2="696.5"/><line x1="103.3" y1="722.5" x2="113.3" y2="722.5"/><line x1="108.3" y1="696.5" x2="108.3" y2="722.5"/>
<line x1="125.7" y1="738.3" x2="143.7" y2="738.3"/><line x1="129.7" y1="720.5" x2="139.7" y2="720.5"/><line x1="134.7" y1="720.5" x2="134.7" y2="745"/>
<line x1="148.7" y1="710.7" x2="166.7" y2="710.7"/><line x1="152.7" y1="702.5" x2="162.7" y2="702.5"/><line x1="152.7" y1="723.3" x2="162.7" y2="723.3"/><line x1="157.7" y1="702.5" x2="157.7" y2="723.3"/>
<line x1="174.3" y1="726" x2="192.3" y2="726"/><line x1="178.3" y1="713.5" x2="188.3" y2="713.5"/><line x1="178.3" y1="733" x2="188.3" y2="733"/><line x1="183.3" y1="713.5" x2="183.3" y2="733"/>
<line x1="199.3" y1="703.3" x2="217.3" y2="703.3"/><line x1="203.3" y1="695.7" x2="213.3" y2="695.7"/><line x1="203.3" y1="719.3" x2="213.3" y2="719.3"/><line x1="208.3" y1="695.7" x2="208.3" y2="719.3"/>
<line x1="223.7" y1="719.3" x2="241.7" y2="719.3"/><line x1="227.7" y1="707.7" x2="237.7" y2="707.7"/><line x1="227.7" y1="728.3" x2="237.7" y2="728.3"/><line x1="232.7" y1="707.7" x2="232.7" y2="728.3"/>
<line x1="248.7" y1="722.5" x2="266.7" y2="722.5"/>
<line x1="274.3" y1="741.5" x2="290.3" y2="741.5"/><line x1="277.3" y1="738.5" x2="287.3" y2="738.5"/><line x1="282.3" y1="738.5" x2="282.3" y2="741.5"/>
<line x1="297" y1="727" x2="315" y2="727"/><line x1="301" y1="712" x2="311" y2="712"/><line x1="301" y1="740" x2="311" y2="740"/><line x1="306" y1="712" x2="306" y2="740"/>
<line x1="326" y1="740.7" x2="336" y2="740.7"/><line x1="331" y1="740.7" x2="331" y2="745"/>
<line x1="347" y1="766" x2="365" y2="766"/>
<line x1="372" y1="766.5" x2="390" y2="766.5"/>
<line x1="397" y1="765.5" x2="415" y2="765.5"/>
<line x1="422" y1="766" x2="440" y2="766"/>
<line x1="447.5" y1="613.3" x2="464.5" y2="613.3"/>
<line x1="469" y1="647" x2="489" y2="647"/><line x1="474" y1="618" x2="484" y2="618"/><line x1="474" y1="653.3" x2="484" y2="653.3"/><line x1="479" y1="618" x2="479" y2="653.3"/>
<line x1="494.3" y1="610" x2="512.3" y2="610"/>
<line x1="518.7" y1="637.3" x2="538.7" y2="637.3"/><line x1="523.7" y1="624" x2="533.7" y2="624"/><line x1="523.7" y1="649" x2="533.7" y2="649"/><line x1="528.7" y1="624" x2="528.7" y2="649"/>
</g>

<!-- legend c -->
<circle cx="569.3" cy="565.7" r="4" fill="#e4282f"/>
<circle cx="569.3" cy="582" r="3.6" fill="none" stroke="#e4282f" stroke-width="1.2"/>
<path d="M569.3,594.7L573.3,598.7L569.3,602.7L565.3,598.7Z" fill="#234a9c"/>
<path d="M569.3,611L573.3,615L569.3,619L565.3,615Z" fill="none" stroke="#2b50a2" stroke-width="1.1"/>
<g font-size="12">
<text x="579.5" y="570">LC 4 M</text>
<text x="579.5" y="586.3">LC 8 M</text>
<text x="579.5" y="603">MC 4 M</text>
<text x="579.5" y="619.3">MC 8 M</text>
</g>
</svg>
</body></html>
